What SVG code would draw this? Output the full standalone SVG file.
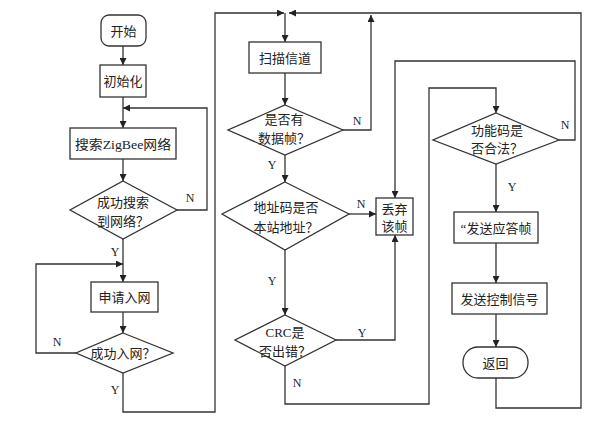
<svg xmlns="http://www.w3.org/2000/svg" width="613" height="424" viewBox="0 0 613 424">
<defs>
<marker id="ah" viewBox="0 0 10 10" refX="10" refY="5" markerWidth="7" markerHeight="7" markerUnits="userSpaceOnUse" orient="auto">
<path d="M0,0 L10,5 L0,10 Z" fill="#222"/>
</marker>
<style>
.n{fill:#fff;stroke:#333;stroke-width:1.3}
.t{font-family:"Liberation Serif","Noto Sans CJK SC",serif;font-size:13px;fill:#222;text-anchor:middle;dominant-baseline:central}
.l{font-family:"Liberation Serif",serif;font-size:12px;fill:#222;text-anchor:middle;dominant-baseline:central}
.c{fill:none;stroke:#333;stroke-width:1.3}
.a{marker-end:url(#ah)}
</style>
</defs>
<rect width="613" height="424" fill="#fff"/>
<g id="connectors">
<path class="c a" d="M123,46 V65"/>
<path class="c a" d="M123,97 V128"/>
<path class="c a" d="M123,159 V181"/>
<path class="c a" d="M177,210 H207 V108 H123"/>
<path class="c a" d="M123,239 V282"/>
<path class="c a" d="M76,353 H36 V264 H123"/>
<path class="c a" d="M123,312 V333"/>
<path class="c a" d="M123,373 V412 H215 V13 H284"/>
<path class="c a" d="M285,13 V42"/>
<path class="c a" d="M285,73 V105"/>
<path class="c a" d="M343,130 H371 V15"/>
<path class="c a" d="M285,155 V182"/>
<path class="c a" d="M349,214 H376"/>
<path class="c a" d="M285,250 V315"/>
<path class="c a" d="M336,340 H395 V235"/>
<path class="c a" d="M285,366 V404 H429 V88 H496 V113"/>
<path class="c a" d="M559,140 H575 V61 H395 V198"/>
<path class="c a" d="M496,164 V212"/>
<path class="c a" d="M496,243 V283"/>
<path class="c a" d="M496,314 V347"/>
<path class="c a" d="M496,378 V408 H581 V13 H289"/>
<text class="l" x="190" y="198">N</text>
<text class="l" x="115" y="252">Y</text>
<text class="l" x="57" y="342">N</text>
<text class="l" x="115" y="390">Y</text>
<text class="l" x="357" y="121">N</text>
<text class="l" x="272" y="165">Y</text>
<text class="l" x="361" y="204">N</text>
<text class="l" x="272" y="281">Y</text>
<text class="l" x="362" y="333">Y</text>
<text class="l" x="297" y="383">N</text>
<text class="l" x="565" y="125">N</text>
<text class="l" x="512" y="187">Y</text>
</g>
<g id="start"><rect class="n" x="101" y="15" width="45" height="31" rx="8"/><text class="t" x="123.5" y="31">开始</text></g>
<g id="init"><rect class="n" x="100" y="65" width="46" height="32"/><text class="t" x="123" y="81">初始化</text></g>
<g id="search"><rect class="n" x="70" y="128" width="106" height="31"/><text class="t" x="123" y="144" textLength="96" lengthAdjust="spacingAndGlyphs">搜索ZigBee网络</text></g>
<g id="found"><polygon class="n" points="123,181 177,210 123,239 70,210"/><text class="t" x="123" y="202">成功搜索</text><text class="t" x="123" y="221">到网络？</text></g>
<g id="join"><rect class="n" x="91" y="282" width="67" height="30"/><text class="t" x="124.5" y="297">申请入网</text></g>
<g id="joined"><polygon class="n" points="123,333 173,353 123,373 76,353"/><text class="t" x="123" y="353">成功入网？</text></g>
<g id="scan"><rect class="n" x="249" y="42" width="72" height="31"/><text class="t" x="285" y="58">扫描信道</text></g>
<g id="hasdata"><polygon class="n" points="285,105 343,130 285,155 228,130"/><text class="t" x="284" y="119">是否有</text><text class="t" x="284" y="138">数据帧？</text></g>
<g id="addr"><polygon class="n" points="285,182 349,214 285,250 222,214"/><text class="t" x="286" y="207">地址码是否</text><text class="t" x="286" y="227">本站地址？</text></g>
<g id="discard"><rect class="n" x="376" y="198" width="37" height="37"/><text class="t" x="394.5" y="209">丢弃</text><text class="t" x="394.5" y="226">该帧</text></g>
<g id="crc"><polygon class="n" points="285,315 336,340 285,366 235,340"/><text class="t" x="285" y="332">CRC是</text><text class="t" x="285" y="351">否出错？</text></g>
<g id="func"><polygon class="n" points="496,113 559,140 496,164 433,140"/><text class="t" x="497" y="130">功能码是</text><text class="t" x="497" y="148">否合法？</text></g>
<g id="ack"><rect class="n" x="454" y="212" width="84" height="31"/><text class="t" x="496" y="228">“发送应答帧</text></g>
<g id="ctrl"><rect class="n" x="452" y="283" width="95" height="31"/><text class="t" x="499.5" y="299">发送控制信号</text></g>
<g id="ret"><rect class="n" x="463" y="347" width="65" height="31" rx="15"/><text class="t" x="495.5" y="363">返回</text></g>
</svg>
